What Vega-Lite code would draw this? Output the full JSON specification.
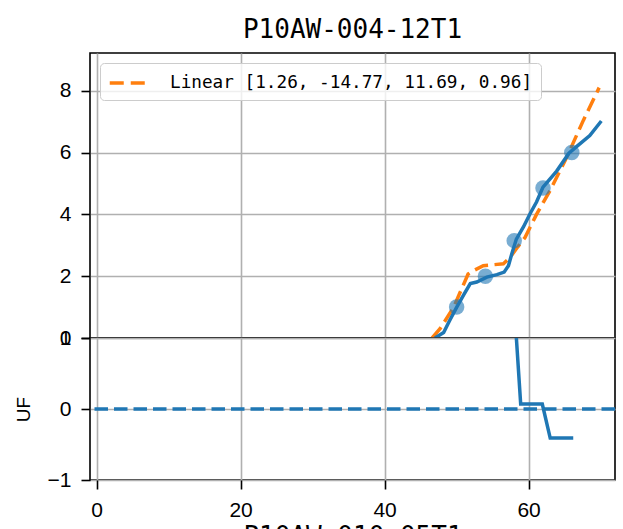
{
  "$schema": "https://vega.github.io/schema/vega-lite/v6.json",
  "background": "white",
  "padding": {"left": 13, "top": 16, "right": 5, "bottom": 0},
  "spacing": 0,
  "bounds": "flush",
  "config": {
    "view": {"stroke": "black", "strokeWidth": 1.6},
    "axis": {
      "grid": true, "gridColor": "#b0b0b0", "gridWidth": 1.6,
      "domain": false, "tickColor": "black", "tickWidth": 1.6, "tickSize": 9,
      "labelFont": "Liberation Sans", "labelFontSize": 21, "labelColor": "black", "labelPadding": 10,
      "titleFont": "DejaVu Sans Mono", "titleFontSize": 26, "titleFontWeight": "normal", "titleColor": "black"
    }
  },
  "datasets": {
    "fit": [
      {"x": 46.6, "y": 0.0, "series": "Linear [1.26, -14.77, 11.69, 0.96]"},
      {"x": 47.7, "y": 0.3, "series": "Linear [1.26, -14.77, 11.69, 0.96]"},
      {"x": 49.6, "y": 1.0, "series": "Linear [1.26, -14.77, 11.69, 0.96]"},
      {"x": 51.6, "y": 2.07, "series": "Linear [1.26, -14.77, 11.69, 0.96]"},
      {"x": 52.1, "y": 2.15, "series": "Linear [1.26, -14.77, 11.69, 0.96]"},
      {"x": 53.7, "y": 2.34, "series": "Linear [1.26, -14.77, 11.69, 0.96]"},
      {"x": 56.5, "y": 2.4, "series": "Linear [1.26, -14.77, 11.69, 0.96]"},
      {"x": 57.4, "y": 2.6, "series": "Linear [1.26, -14.77, 11.69, 0.96]"},
      {"x": 58.5, "y": 2.95, "series": "Linear [1.26, -14.77, 11.69, 0.96]"},
      {"x": 59.5, "y": 3.25, "series": "Linear [1.26, -14.77, 11.69, 0.96]"},
      {"x": 61.1, "y": 4.0, "series": "Linear [1.26, -14.77, 11.69, 0.96]"},
      {"x": 63.0, "y": 4.78, "series": "Linear [1.26, -14.77, 11.69, 0.96]"},
      {"x": 65.3, "y": 5.85, "series": "Linear [1.26, -14.77, 11.69, 0.96]"},
      {"x": 67.6, "y": 7.04, "series": "Linear [1.26, -14.77, 11.69, 0.96]"},
      {"x": 69.8, "y": 8.1, "series": "Linear [1.26, -14.77, 11.69, 0.96]"}
    ],
    "curve": [
      {"x": 47.0, "y": 0.0}, {"x": 48.2, "y": 0.18}, {"x": 49.0, "y": 0.55},
      {"x": 50.0, "y": 0.99}, {"x": 51.0, "y": 1.4}, {"x": 51.9, "y": 1.76},
      {"x": 52.8, "y": 1.81}, {"x": 54.2, "y": 1.97}, {"x": 55.6, "y": 2.05},
      {"x": 56.6, "y": 2.13}, {"x": 57.2, "y": 2.34}, {"x": 57.7, "y": 2.75},
      {"x": 58.3, "y": 3.2}, {"x": 59.3, "y": 3.6}, {"x": 60.2, "y": 4.02},
      {"x": 61.1, "y": 4.4}, {"x": 62.0, "y": 4.88}, {"x": 63.9, "y": 5.4},
      {"x": 65.6, "y": 5.98}, {"x": 66.7, "y": 6.2}, {"x": 68.5, "y": 6.55},
      {"x": 70.1, "y": 7.02}
    ],
    "points": [
      {"x": 50, "y": 1.0}, {"x": 54, "y": 2.0}, {"x": 58, "y": 3.15},
      {"x": 62, "y": 4.85}, {"x": 66, "y": 6.0}
    ],
    "uf": [
      {"x": 58.3, "y": 1.0}, {"x": 58.9, "y": 0.07}, {"x": 61.9, "y": 0.07},
      {"x": 63.0, "y": -0.41}, {"x": 66.2, "y": -0.41}
    ],
    "zero": [{"y": 0}]
  },
  "vconcat": [
    {
      "width": 525,
      "height": 285,
      "title": {"text": "P10AW-004-12T1", "font": "DejaVu Sans Mono", "fontSize": 26, "fontWeight": "normal", "color": "black", "frame": "group", "anchor": "middle", "offset": 10},
      "layer": [
        {
          "data": {"name": "fit"},
          "mark": {"type": "line", "strokeWidth": 3.5, "strokeDash": [14, 6.5], "clip": true},
          "encoding": {
            "x": {"field": "x", "type": "quantitative", "scale": {"domain": [-0.92, 72], "nice": false, "zero": false},
                  "axis": {"values": [0, 20, 40, 60], "labels": false, "ticks": false, "title": null, "minExtent": 0, "maxExtent": 0}},
            "y": {"field": "y", "type": "quantitative", "scale": {"domain": [0, 9.22], "nice": false},
                  "axis": {"values": [0, 2, 4, 6, 8], "format": ".0f", "title": null}},
            "color": {"field": "series", "type": "nominal",
                      "scale": {"domain": ["Linear [1.26, -14.77, 11.69, 0.96]"], "range": ["#ff7f0e"]},
                      "legend": {"orient": "top-left", "offset": 10, "title": null,
                                 "labelFont": "DejaVu Sans Mono", "labelFontSize": 17.7, "labelColor": "black", "labelLimit": 0,
                                 "symbolType": "M-1,0H3", "symbolSize": 420, "symbolStrokeWidth": 3.5,
                                 "symbolDash": [14, 7], "labelOffset": 38,
                                 "strokeColor": "#cccccc", "fillColor": "rgba(255,255,255,0.8)",
                                 "padding": 8, "cornerRadius": 4}}
          }
        },
        {
          "data": {"name": "curve"},
          "mark": {"type": "line", "strokeWidth": 3.5, "color": "#1f77b4", "clip": true},
          "encoding": {
            "x": {"field": "x", "type": "quantitative"},
            "y": {"field": "y", "type": "quantitative"}
          }
        },
        {
          "data": {"name": "points"},
          "mark": {"type": "circle", "size": 240, "color": "#1f77b4", "opacity": 0.6},
          "encoding": {
            "x": {"field": "x", "type": "quantitative"},
            "y": {"field": "y", "type": "quantitative"}
          }
        }
      ]
    },
    {
      "width": 525,
      "height": 142,
      "layer": [
        {
          "data": {"name": "uf"},
          "mark": {"type": "line", "strokeWidth": 3.5, "color": "#1f77b4", "clip": true},
          "encoding": {
            "x": {"field": "x", "type": "quantitative", "scale": {"domain": [-0.92, 72], "nice": false, "zero": false},
                  "axis": {"values": [0, 20, 40, 60], "format": ".0f", "title": "P10AW-010-05T1", "titlePadding": 3}},
            "y": {"field": "y", "type": "quantitative", "scale": {"domain": [-1, 1], "nice": false},
                  "axis": {"values": [-1, 0, 1], "format": ".0f", "labelOverlap": false, "title": "UF", "titleFont": "Liberation Sans", "titleFontSize": 19, "titlePadding": 14}}
          }
        },
        {
          "data": {"name": "zero"},
          "mark": {"type": "rule", "strokeWidth": 3.5, "color": "#1f77b4", "strokeDash": [13.5, 6]},
          "encoding": {
            "y": {"field": "y", "type": "quantitative"}
          }
        }
      ]
    }
  ]
}
